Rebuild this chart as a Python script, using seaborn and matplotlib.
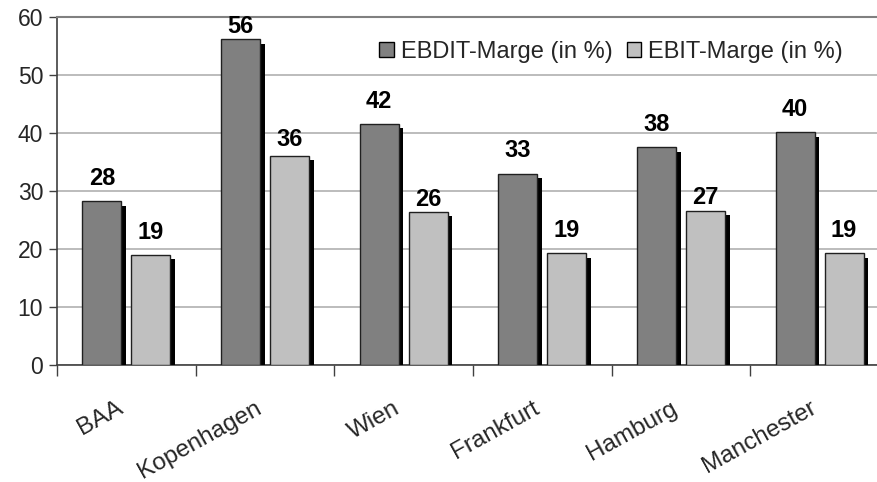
import matplotlib
matplotlib.use("Agg")
import matplotlib.pyplot as plt
import matplotlib.patheffects as pe
import matplotlib.transforms as mtransforms
from matplotlib.patches import Patch
from matplotlib.ticker import FixedLocator
import seaborn as sns
import pandas as pd

# ---- data ----
airports = ["BAA", "Kopenhagen", "Wien", "Frankfurt", "Hamburg", "Manchester"]
series = ["EBDIT-Marge (in %)", "EBIT-Marge (in %)"]
ebdit = [28.2, 56.2, 41.6, 33.0, 37.6, 40.1]
ebit = [19.0, 36.1, 26.4, 19.3, 26.6, 19.3]
y_ticks = [0, 10, 20, 30, 40, 50, 60]

# label gaps above the bars (points), per series
label_pad_ebdit = [8, 0.5, 8, 8, 8, 8]
label_pad_ebit = [8, 3, 0.5, 8, 1, 8]

df = pd.DataFrame({
    "Flughafen": airports * 2,
    "Kennzahl": [series[0]] * len(airports) + [series[1]] * len(airports),
    "Wert": ebdit + ebit,
})

colors = ["#808080", "#c0c0c0"]

sns.set_theme(style="white")
plt.rcParams["font.family"] = ["Liberation Sans", "DejaVu Sans"]

W, H = 877, 482
fig = plt.figure(figsize=(W / 100, H / 100), dpi=100)
ax = fig.add_axes([57 / W, (H - 365) / H, (889 - 57) / W, (365 - 17) / H])

sns.barplot(data=df, x="Flughafen", y="Wert", hue="Kennzahl",
            palette=colors, width=0.705, gap=0.2, errorbar=None,
            edgecolor="#202020", linewidth=1.0, saturation=1, ax=ax,
            legend=False, zorder=3)

shadow = [pe.SimplePatchShadow(offset=(3.3, -3.3), shadow_rgbFace="black", alpha=1.0),
          pe.Normal()]
for p in ax.patches:
    p.set_path_effects(shadow)

for cont, pads in zip(ax.containers, [label_pad_ebdit, label_pad_ebit]):
    for bar, pad in zip(cont, pads):
        h = bar.get_height()
        ax.annotate(f"{h:.0f}", (bar.get_x() + bar.get_width() / 2, h),
                    xytext=(0, pad), textcoords="offset points",
                    ha="center", va="bottom", fontsize=17, fontweight="bold",
                    color="black", annotation_clip=False)

ax.set_ylim(0, 60)
ax.set_xlim(-0.5, 5.5)
ax.set_yticks(y_ticks)
ax.set_yticklabels([str(t) for t in y_ticks], fontsize=16.5)
ax.yaxis.grid(True, color="#b0b0b0", linewidth=1.2, zorder=0)
ax.set_axisbelow(True)
ax.tick_params(axis="y", which="major", length=6, width=1, color="#404040",
               left=True, pad=4)

ax.xaxis.set_minor_locator(FixedLocator([i - 0.5 for i in range(len(airports) + 1)]))
ax.tick_params(axis="x", which="minor", length=8, width=1, color="#404040",
               bottom=True)
ax.tick_params(axis="x", which="major", length=0, pad=30)
ax.set_xticks(range(len(airports)))
ax.set_xticklabels(airports, rotation=29, ha="right", va="center",
                   rotation_mode="anchor", fontsize=17.5)
shift = mtransforms.ScaledTranslation(-5 / 100, 0, fig.dpi_scale_trans)
for lbl in ax.get_xticklabels():
    lbl.set_transform(lbl.get_transform() + shift)

ax.set_xlabel("")
ax.set_ylabel("")
ax.spines["right"].set_visible(False)
ax.spines["top"].set_color("#808080")
ax.spines["top"].set_linewidth(1.5)
ax.spines["left"].set_color("#404040")
ax.spines["bottom"].set_color("#404040")
ax.spines["left"].set_linewidth(1.2)
ax.spines["bottom"].set_linewidth(1.2)

handles = [Patch(facecolor=c, edgecolor="black", linewidth=1.0) for c in colors]
fig.legend(handles, series, loc="center left",
           bbox_to_anchor=(379 / W, 1 - 52 / H), ncol=2, frameon=False,
           fontsize=17, handlelength=0.62, handleheight=0.62,
           handletextpad=0.3, columnspacing=0.6, borderpad=0, borderaxespad=0)

fig.savefig("out.png", dpi=100)
